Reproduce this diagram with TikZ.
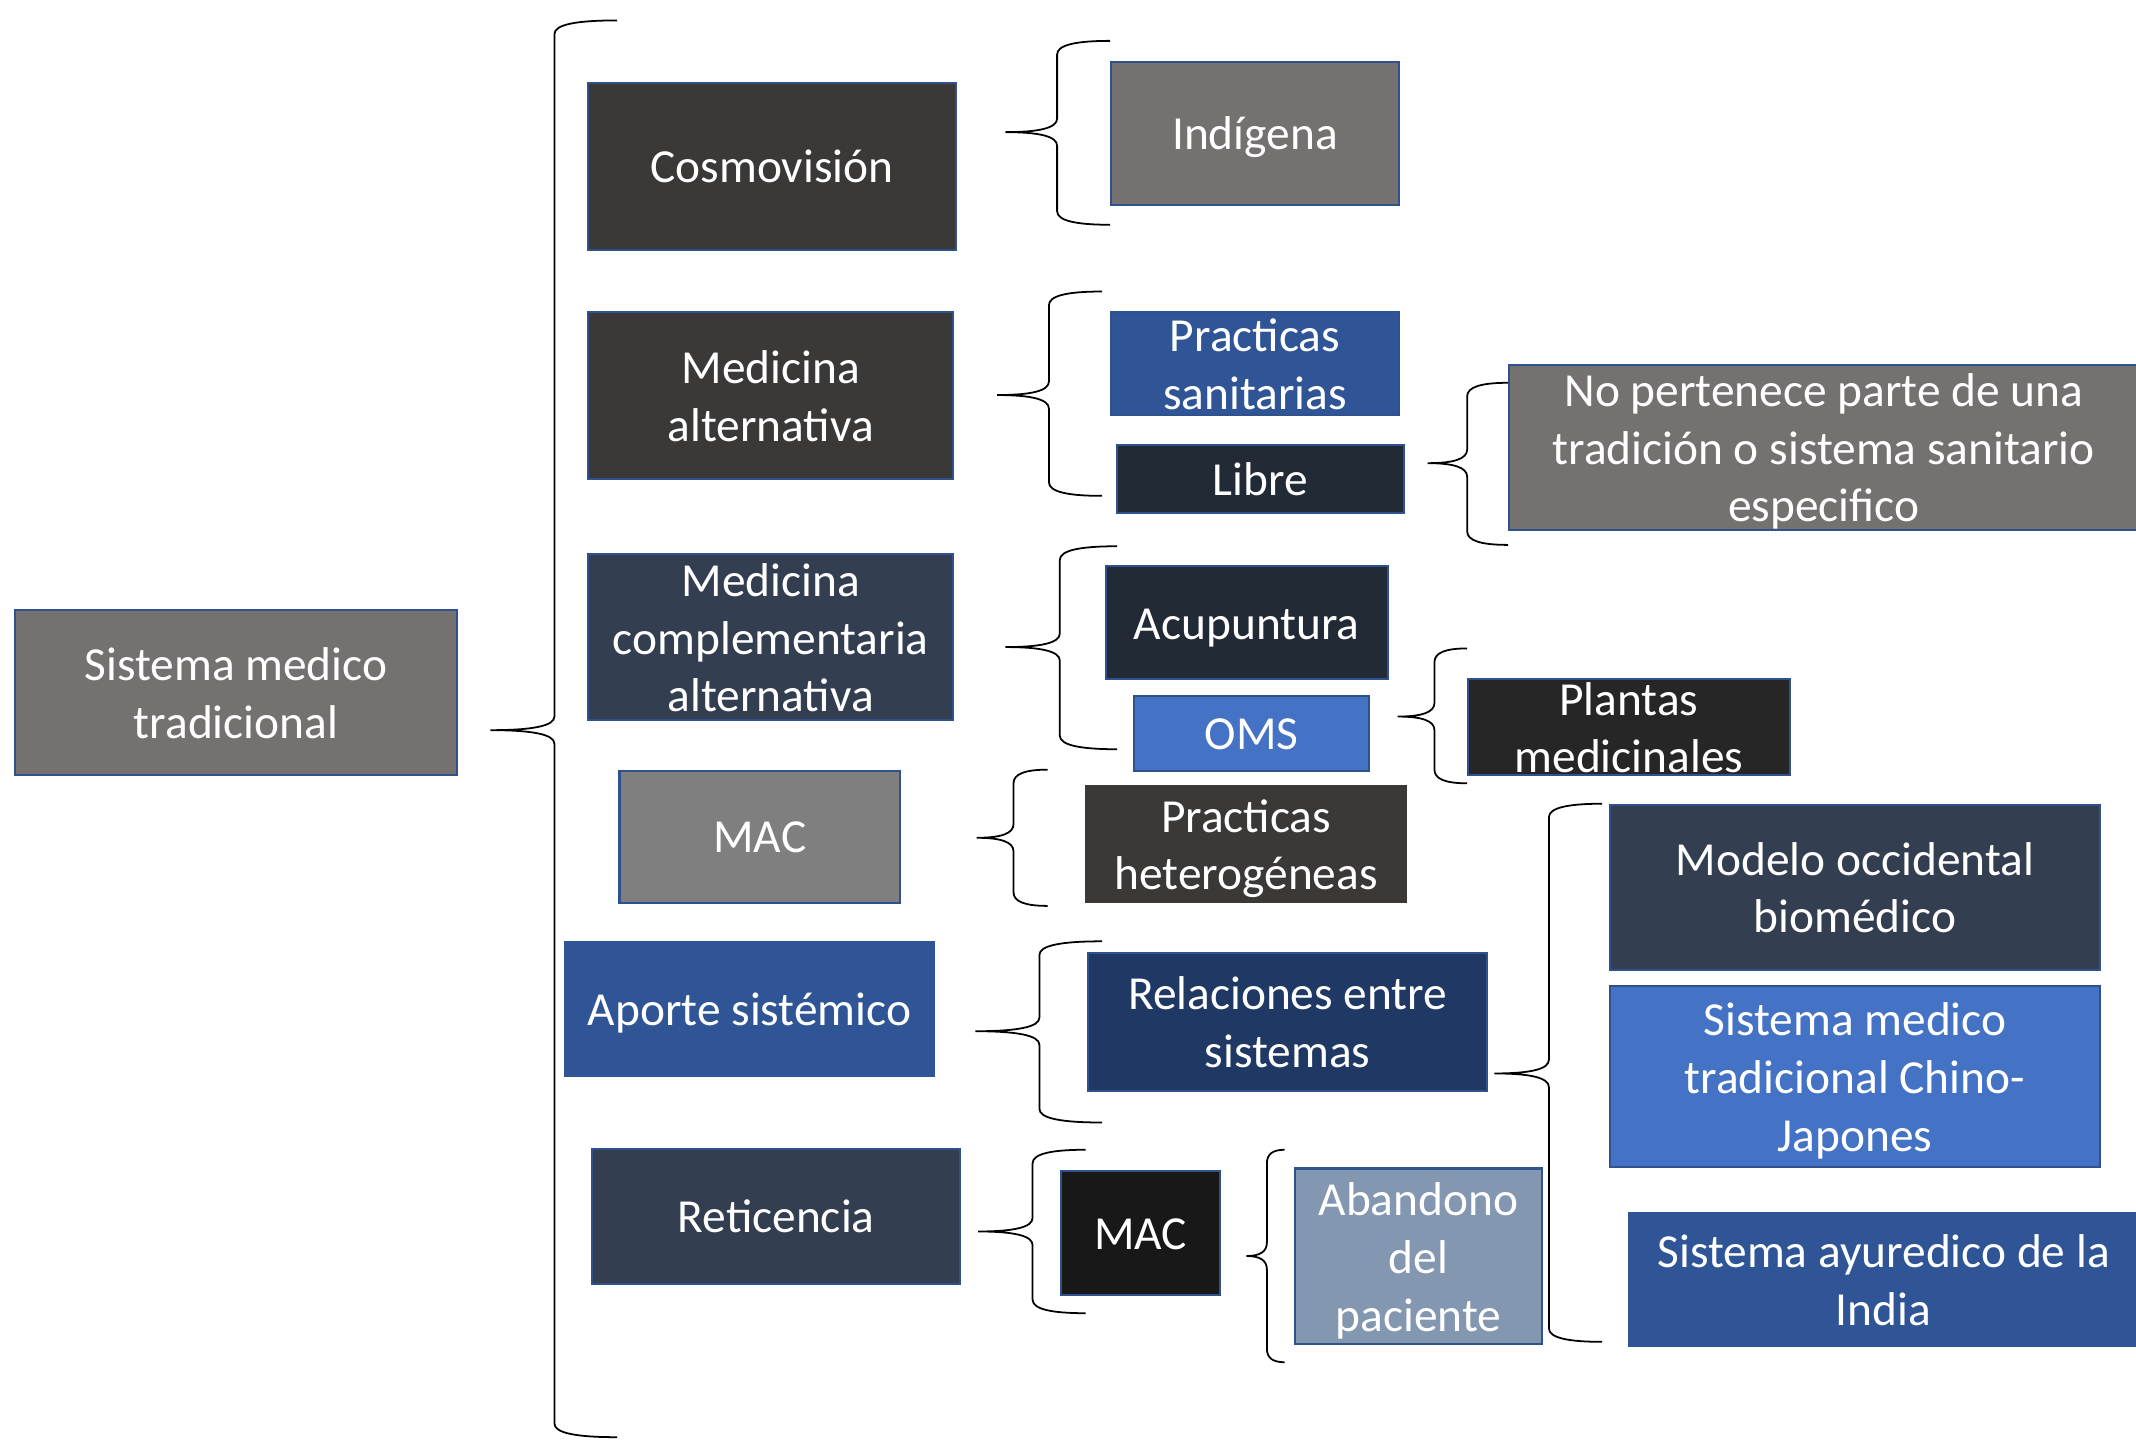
\documentclass[tikz,border=0pt]{standalone}
\usepackage{fontspec}
\setmainfont{Carlito}
\definecolor{bordc}{HTML}{2F528F}
\definecolor{grayA}{HTML}{767171}
\definecolor{darkA}{HTML}{3B3838}
\definecolor{slateA}{HTML}{333F50}
\definecolor{macgray}{HTML}{7F7F7F}
\definecolor{blueA}{HTML}{2F5597}
\definecolor{navyA}{HTML}{222A35}
\definecolor{brightA}{HTML}{4472C4}
\definecolor{blackA}{HTML}{262626}
\definecolor{navyB}{HTML}{203864}
\definecolor{blackB}{HTML}{181818}
\definecolor{steelA}{HTML}{8497B0}
\newcommand\lnst{\rule[-9.4pt]{0pt}{42.5pt}}
\newcommand\cbr[6]{\draw[brc] (#4,#5) .. controls ({#3+0.35*(#4-#3)},#5) and (#3,{#5+3}) .. (#3,{#5+10}) -- (#3,{#2-10}) .. controls (#3,{#2-3}) and ({#3-0.35*(#3-#1)},#2) .. (#1,#2) .. controls ({#3-0.35*(#3-#1)},#2) and (#3,{#2+3}) .. (#3,{#2+10}) -- (#3,{#6-10}) .. controls (#3,{#6-3}) and ({#3+0.35*(#4-#3)},#6) .. (#4,#6);}
\tikzset{
  box/.style={draw=bordc, line width=1.5pt, inner sep=0pt, anchor=north west},
  nobox/.style={draw=none, inner sep=0pt, anchor=north west},
  lbl/.style={text=white, align=center, inner sep=0pt, font=\fontsize{34.8pt}{42.5pt}\selectfont, execute at begin node=\lnst, execute at end node=\lnst},
  lblm/.style={lbl, yshift=-5pt},
  brc/.style={draw=black, line width=1.3pt}
}
\begin{document}
\begin{tikzpicture}[x=1pt,y=-1pt]
\useasboundingbox[fill=white] (0,0) rectangle (1568,1057);
% boxes
\node[box, fill=grayA, minimum width=325pt, minimum height=121pt] (sys) at (10,447) {};
\node[box, fill=darkA, minimum width=270pt, minimum height=123pt] (cos) at (431,60) {};
\node[box, fill=darkA, minimum width=268pt, minimum height=123pt] (mal) at (431,228) {};
\node[box, fill=slateA, minimum width=268pt, minimum height=122pt] (mca) at (431,406) {};
\node[box, fill=macgray, minimum width=206pt, minimum height=97pt] (mac) at (454,565) {};
\node[box, draw=blueA, fill=blueA, minimum width=271pt, minimum height=98pt] (apo) at (414,691) {};
\node[box, fill=slateA, minimum width=270pt, minimum height=99pt] (ret) at (434,843) {};
\node[box, fill=grayA, minimum width=211pt, minimum height=105pt] (ind) at (815,45) {};
\node[box, fill=blueA, minimum width=211pt, minimum height=76pt] (psa) at (815,228) {};
\node[box, fill=navyA, minimum width=211pt, minimum height=50pt] (lib) at (819,326) {};
\node[box, fill=grayA, minimum width=462pt, minimum height=121pt] (nop) at (1107,267) {};
\node[box, fill=navyA, minimum width=207pt, minimum height=83pt] (acu) at (811,415) {};
\node[box, fill=brightA, minimum width=172pt, minimum height=55pt] (oms) at (832,510) {};
\node[box, fill=blackA, minimum width=236pt, minimum height=70pt] (pla) at (1077,498) {};
\node[nobox, fill=darkA, minimum width=237pt, minimum height=87pt] (phe) at (796,576) {};
\node[box, fill=navyB, minimum width=293pt, minimum height=101pt] (rel) at (798,699) {};
\node[box, fill=blackB, minimum width=117pt, minimum height=91pt] (mac2) at (778,859) {};
\node[box, fill=steelA, minimum width=181pt, minimum height=129pt] (aba) at (950,857) {};
\node[box, fill=slateA, minimum width=360pt, minimum height=121pt] (mod) at (1181,590) {};
\node[box, fill=brightA, minimum width=360pt, minimum height=133pt] (chi) at (1181,723) {};
\node[box, draw=blueA, fill=blueA, minimum width=374pt, minimum height=97pt] (ayu) at (1195,890) {};
% labels
\node[lblm] (sys-t) at (sys.center) {Sistema medico\\tradicional};
\node[lbl] (cos-t) at (cos.center) {Cosmovisión};
\node[lblm] (mal-t) at (mal.center) {Medicina\\alternativa};
\node[lblm] (mca-t) at (mca.center) {Medicina\\complementaria\\alternativa};
\node[lbl] (mac-t) at (mac.center) {MAC};
\node[lbl] (apo-t) at (apo.center) {Aporte sistémico};
\node[lbl] (ret-t) at (ret.center) {Reticencia};
\node[lbl] (ind-t) at (ind.center) {Indígena};
\node[lblm] (psa-t) at (psa.center) {Practicas\\sanitarias};
\node[lbl] (lib-t) at (lib.center) {Libre};
\node[lblm] (nop-t) at (nop.center) {No pertenece parte de una\\tradición o sistema sanitario\\especifico};
\node[lbl] (acu-t) at (acu.center) {Acupuntura};
\node[lbl] (oms-t) at (oms.center) {OMS};
\node[lblm] (pla-t) at (pla.center) {Plantas\\medicinales};
\node[lblm] (phe-t) at (phe.center) {Practicas\\heterogéneas};
\node[lblm] (rel-t) at (rel.center) {Relaciones entre\\sistemas};
\node[lbl] (mac2-t) at (mac2.center) {MAC};
\node[lblm] (aba-t) at (aba.center) {Abandono\\del\\paciente};
\node[lblm] (mod-t) at (mod.center) {Modelo occidental\\biomédico};
\node[lblm] (chi-t) at (chi.center) {Sistema medico\\tradicional Chino-\\Japones};
\node[lblm] (ayu-t) at (ayu.center) {Sistema ayuredico de la\\India};
% braces
\cbr{360}{536}{407}{453}{15}{1055}
\cbr{738}{97}{776}{815}{30}{165}
\cbr{732}{290}{770}{809}{214}{364}
\cbr{1048}{340}{1077}{1107}{281}{400}
\cbr{738}{475}{778}{820}{401}{550}
\cbr{1026}{526}{1053}{1077}{476}{575}
\cbr{717}{615}{744}{769}{565}{665}
\cbr{716}{757}{763}{809}{691}{824}
\cbr{1097}{788}{1137}{1176}{590}{985}
\cbr{718}{904}{758}{797}{844}{964}
\cbr{915}{922}{930}{943}{844}{1000}
\end{tikzpicture}
\end{document}
